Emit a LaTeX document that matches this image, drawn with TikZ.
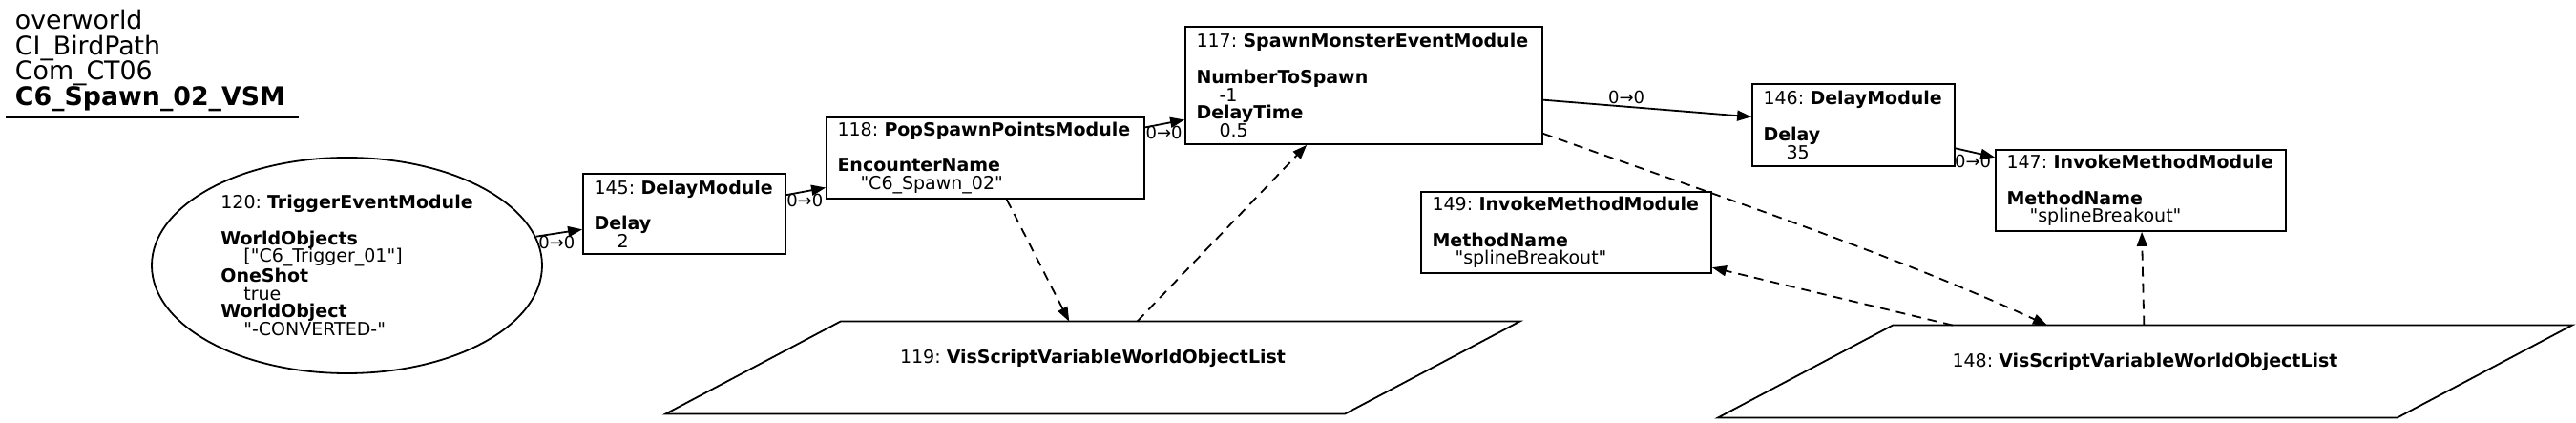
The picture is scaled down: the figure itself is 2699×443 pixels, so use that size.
\documentclass[tikz,border=0pt]{standalone}
\usepackage{fontspec}
\setmainfont{DejaVu Sans}[Ligatures=TeXOff]
\usetikzlibrary{arrows.meta,shapes.geometric}
\frenchspacing
\hyphenpenalty=10000
\exhyphenpenalty=10000

\tikzset{
  modbox/.style={draw, line width=0.9pt, rectangle, align=left, inner xsep=5.75pt, inner ysep=1pt,
    font=\fontsize{9.5pt}{9.3pt}\selectfont},
  trigger/.style={draw, line width=0.9pt, ellipse, align=left, inner sep=0pt,
    minimum width=204.5pt, minimum height=113pt, font=\fontsize{9.5pt}{9.3pt}\selectfont},
  varlist/.style={rectangle, minimum width=447pt, minimum height=48pt, text height=7pt, text depth=12pt,
    font=\fontsize{9.5pt}{9.3pt}\selectfont},
  flow/.style={line width=0.9pt, -{Triangle[length=7.5pt,width=5.5pt]}},
  link/.style={flow, dash pattern=on 5pt off 3.5pt},
  lbl/.style={font=\fontsize{9pt}{9pt}\selectfont, inner sep=1pt},
}
\newcommand{\fld}[2]{\textbf{#1}\\\hspace*{12pt}#2}

\begin{document}
\begin{tikzpicture}[x=0.5pt,y=-0.5pt]
  \useasboundingbox (0,0) rectangle (2699,443);
  % graph title
  \node[anchor=north west, inner sep=0pt, align=left, font=\fontsize{13.4pt}{13.35pt}\selectfont] (title) at (15.5,9.6)
    {overworld\\CI\_BirdPath\\Com\_CT06\\\textbf{C6\_Spawn\_02\_VSM}};
  \draw[line width=0.9pt] (6,123) -- (313,123);

  % modules
  \node[trigger] (e120) at (363.5,278) {120: \textbf{TriggerEventModule}\\[9.5pt]\fld{WorldObjects}{["C6\_Trigger\_01"]}\\\fld{OneShot}{true}\\\fld{WorldObject}{"-CONVERTED-"}};
  \node[modbox, text width=94.5pt, minimum height=42pt] (m145) at (717,224) {145: \textbf{DelayModule}\\[9.5pt]\fld{Delay}{2}};
  \node[modbox, text width=155pt, minimum height=42.5pt] (m118) at (1032.5,165.5) {118: \textbf{PopSpawnPointsModule}\\[9.5pt]\fld{EncounterName}{"C6\_Spawn\_02"}};
  \node[modbox, text width=175.5pt, minimum height=61.5pt] (m117) at (1429,89.5) {117: \textbf{SpawnMonsterEventModule}\\[9.5pt]\fld{NumberToSpawn}{-1}\\\fld{DelayTime}{0.5}};
  \node[modbox, text width=94.5pt, minimum height=43pt] (m146) at (1942,131) {146: \textbf{DelayModule}\\[9.5pt]\fld{Delay}{35}};
  \node[modbox, text width=140.5pt, minimum height=42.5pt] (m149) at (1641,243.5) {149: \textbf{InvokeMethodModule}\\[9.5pt]\fld{MethodName}{"splineBreakout"}};
  \node[modbox, text width=140.5pt, minimum height=42.5pt] (m147) at (2243,199.5) {147: \textbf{InvokeMethodModule}\\[9.5pt]\fld{MethodName}{"splineBreakout"}};

  % variables
  \node[varlist] (v119) at (1145,385) {119: \textbf{VisScriptVariableWorldObjectList}};
  \node[varlist] (v148) at (2247.5,389) {148: \textbf{VisScriptVariableWorldObjectList}};
  \foreach \v in {v119,v148}
    \draw[line width=0.9pt] (\v.south west) -- ([xshift=91.5pt]\v.north west) -- (\v.north east)
      -- ([xshift=-91.5pt]\v.south east) -- cycle;

  % links
  \draw[flow] (e120) -- node[lbl, pos=0.45, below] {0→0} (m145);
  \draw[flow] (m145) -- node[lbl, pos=0.47, below] {0→0} (m118);
  \draw[flow] (m118) -- node[lbl, pos=0.48, below] {0→0} (m117);
  \draw[flow] (m117) -- node[lbl, pos=0.4, above] {0→0} (m146);
  \draw[flow] (m146) -- node[lbl, pos=0.44, below] {0→0} (m147);
  \draw[link] (m118) -- (v119);
  \draw[link] (v119) -- (m117);
  \draw[link] ([yshift=6pt]m117.south east) .. controls (1785,200) and (1982,265.5) .. ([xshift=-51.25pt]v148.north);
  \draw[link] (v148) -- (m149);
  \draw[link] (v148) -- (m147);
\end{tikzpicture}
\end{document}
